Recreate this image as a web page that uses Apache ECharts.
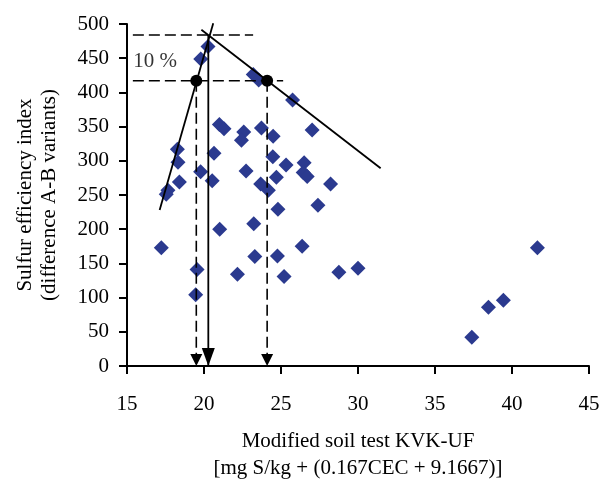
<!DOCTYPE html>
<html><head><meta charset="utf-8">
<script src="https://cdn.jsdelivr.net/npm/echarts@6/dist/echarts.min.js"></script>
<style>html,body{margin:0;padding:0;background:#fff}#c{width:602px;height:483px}</style>
</head><body><div id="c"></div>
<script>
// Measured points: modified soil test KVK-UF (x) vs sulfur efficiency index (y)
const kvkUF = [20.26, 19.79, 23.2, 23.55, 25.75, 21.0, 21.3, 22.58, 22.43, 23.73, 24.49, 27.02,
  18.27, 18.31, 20.65, 19.78, 20.53, 22.73, 24.47, 25.33, 23.68, 24.18, 24.7, 26.5, 26.44, 26.7,
  28.22, 18.4, 17.66, 17.55, 24.8, 27.4, 21.02, 23.23, 17.23, 26.37, 23.3, 24.77, 19.55, 22.17,
  25.2, 28.76, 30.0, 19.46, 41.65, 39.44, 38.47, 37.39];
const sulfurIndex = [467, 449, 426, 418, 389, 353, 347, 342, 330, 348, 336, 345,
  317, 298, 311, 284, 271, 285, 306, 294, 266, 257, 276, 297, 283, 277,
  266, 269, 257, 251, 229, 235, 200, 208, 173, 175, 160, 161, 141, 134,
  131, 137, 143, 104, 173, 96, 86, 42];

const xTickValues = [15, 20, 25, 30, 35, 40, 45];
const yTickValues = [0, 50, 100, 150, 200, 250, 300, 350, 400, 450, 500];

// Annotation geometry (data units)
const risingLine = [[17.12, 228], [20.6, 501]];
const fallingLine = [[19.83, 491.7], [31.47, 289]];
const maxLevelDash = [[15.38, 484], [23.19, 484]];
const tenPctDash = [[15.38, 417], [25.14, 417]];
const leftDrop = [[19.5, 417], [19.5, 0]];
const rightDrop = [[24.1, 417], [24.1, 0]];
const optimumDrop = [[20.28, 484], [20.28, 0]];
const crossingDots = [[19.5, 417], [24.1, 417]];
const smallArrowTips = [[19.5, 0], [24.1, 0]];
const bigArrowTip = [[20.28, 0]];
const tenPctLabelAnchor = [[15.38, 445]];
const tenPctLabel = '10 %';

const FONT = 'Liberation Serif';
const chart = echarts.init(document.getElementById('c'), null, {renderer: 'canvas'});

function seg(data, dashed) {
  return {
    type: 'line', data: data, symbol: 'none', silent: true, animation: false,
    lineStyle: {color: '#000', width: dashed ? 1.6 : 1.8, type: dashed ? [11, 5] : 'solid'},
    z: 3
  };
}

chart.setOption({
  animation: false,
  backgroundColor: '#fff',
  grid: {left: 127, right: 13, top: 24, bottom: 117, containLabel: false, outerBoundsMode: 'none'},
  xAxis: {
    type: 'value', min: xTickValues[0], max: xTickValues[xTickValues.length - 1], interval: 5,
    name: 'Modified soil test KVK-UF\n[mg S/kg + (0.167CEC + 9.1667)]',
    nameLocation: 'middle', nameGap: 62,
    nameTextStyle: {fontFamily: FONT, fontSize: 21, color: '#000', lineHeight: 27, verticalAlign: 'top'},
    axisLine: {onZero: false, lineStyle: {color: '#000', width: 2}},
    axisTick: {show: true, inside: false, length: 8, lineStyle: {color: '#000', width: 2}},
    axisLabel: {fontFamily: FONT, fontSize: 21, color: '#000', margin: 28},
    splitLine: {show: false}
  },
  yAxis: {
    type: 'value', min: yTickValues[0], max: yTickValues[yTickValues.length - 1], interval: 50,
    name: 'Sulfur efficiency index\n(difference A-B variants)',
    nameLocation: 'middle', nameGap: 66, nameRotate: 90,
    nameTextStyle: {fontFamily: FONT, fontSize: 21, color: '#000', lineHeight: 24},
    axisLine: {onZero: false, lineStyle: {color: '#000', width: 2}},
    axisTick: {show: true, inside: false, length: 8, lineStyle: {color: '#000', width: 2}},
    axisLabel: {fontFamily: FONT, fontSize: 21, color: '#000', margin: 18},
    splitLine: {show: false}
  },
  series: [
    {
      type: 'scatter', data: kvkUF.map((x, i) => [x, sulfurIndex[i]]),
      symbol: 'diamond', symbolSize: 15, itemStyle: {color: '#2B3A8F', opacity: 1}, z: 2
    },
    seg(risingLine, false),
    seg(fallingLine, false),
    seg(maxLevelDash, true),
    seg(tenPctDash, true),
    seg(leftDrop, true),
    seg(rightDrop, true),
    seg(optimumDrop, false),
    {
      type: 'scatter', data: crossingDots, symbol: 'circle', symbolSize: 12,
      itemStyle: {color: '#000', opacity: 1}, z: 5, silent: true
    },
    {
      type: 'scatter', data: smallArrowTips, symbol: 'triangle', symbolSize: [12, 12],
      symbolRotate: 180, symbolOffset: [0, -6], itemStyle: {color: '#000', opacity: 1}, z: 5, silent: true
    },
    {
      type: 'scatter', data: bigArrowTip, symbol: 'triangle', symbolSize: [13, 18],
      symbolRotate: 180, symbolOffset: [0, -9], itemStyle: {color: '#000', opacity: 1}, z: 5, silent: true
    },
    {
      type: 'scatter', data: tenPctLabelAnchor, symbolSize: 1, itemStyle: {color: 'rgba(0,0,0,0)'},
      silent: true, z: 6,
      label: {show: true, position: 'right', distance: 0, formatter: tenPctLabel,
        fontFamily: FONT, fontSize: 21, color: '#000'}
    }
  ]
});
</script>
</body></html>
